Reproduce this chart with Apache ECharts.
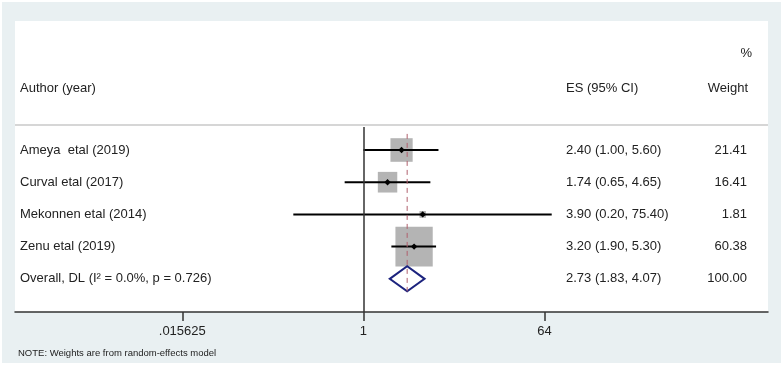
<!DOCTYPE html>
<html>
<head>
<meta charset="utf-8">
<script src="https://cdn.jsdelivr.net/npm/echarts@6/dist/echarts.min.js"></script>
<style>html,body{margin:0;padding:0;background:#fff;}#chart{width:783px;height:366px;}</style>
</head>
<body>
<div id="chart"></div>
<script>
// ---- data ----
const categories = ['Ameya  etal (2019)', 'Curval etal (2017)', 'Mekonnen etal (2014)', 'Zenu etal (2019)'];
const esValues = [2.40, 1.74, 3.90, 3.20];
const ciLower = [1.00, 0.65, 0.20, 1.90];
const ciUpper = [5.60, 4.65, 75.40, 5.30];
const weights = [21.41, 16.41, 1.81, 60.38];
const overallLabel = 'Overall, DL (I\u00B2 = 0.0%, p = 0.726)';
const overallES = [2.73];
const overallLower = [1.83];
const overallUpper = [4.07];
const overallWeight = [100.00];
const refValue = 1;
const tickValues = [0.015625, 1, 64];
const tickLabels = ['.015625', '1', '64'];
const headerCols = ['Author (year)', 'ES (95% CI)', 'Weight', '%'];
const noteText = 'NOTE: Weights are from random-effects model';

// ---- layout ----
const FONT = 'Liberation Sans, Arial, sans-serif';
const FS = 13;
const TXT = '#222';
const L2 = Math.log2;

const rows = [];
for (let i = 0; i < categories.length; i++) {
  rows.push([i, L2(esValues[i]), L2(ciLower[i]), L2(ciUpper[i]), weights[i]]);
}
rows.push([categories.length, L2(overallES[0]), L2(overallLower[0]), L2(overallUpper[0]), overallWeight[0]]);
const nRows = rows.length;
const diamondHalf = 0.39; // in row units

function fmt(v) { return v.toFixed(2); }

function renderItem(params, api) {
  const i = params.dataIndex;
  const isOverall = i === categories.length;
  const yv = api.value(0);
  const pE = api.coord([api.value(1), yv]);
  const pL = api.coord([api.value(2), yv]);
  const pH = api.coord([api.value(3), yv]);
  const w = api.value(4);
  const rowH = api.size([0, 1])[1];
  const children = [];
  const label = isOverall ? overallLabel : categories[i];
  const es = isOverall ? overallES[0] : esValues[i];
  const lo = isOverall ? overallLower[0] : ciLower[i];
  const hi = isOverall ? overallUpper[0] : ciUpper[i];
  if (isOverall) {
    const dh = rowH * diamondHalf;
    children.push({
      type: 'polygon',
      shape: { points: [[pL[0], pE[1]], [pE[0], pE[1] - dh], [pH[0], pE[1]], [pE[0], pE[1] + dh]] },
      style: { fill: 'none', stroke: '#1c237e', lineWidth: 2 }
    });
  } else {
    const s = Math.sqrt(w);
    const bw = 4.8 * s, bh = 5.1 * s;
    children.push({
      type: 'rect',
      shape: { x: pE[0] - bw / 2, y: pE[1] - bh / 2, width: bw, height: bh },
      style: { fill: '#b4b4b4' }
    });
    children.push({
      type: 'line',
      shape: { x1: pL[0], y1: pL[1], x2: pH[0], y2: pH[1] },
      style: { stroke: '#000', lineWidth: 2 }
    });
    const m = 3.2;
    children.push({
      type: 'polygon',
      shape: { points: [[pE[0] - m, pE[1]], [pE[0], pE[1] - m], [pE[0] + m, pE[1]], [pE[0], pE[1] + m]] },
      style: { fill: '#000' }
    });
  }
  children.push({
    type: 'text',
    style: { text: label, x: 20, y: pE[1], textAlign: 'left', textVerticalAlign: 'middle', font: FS + 'px ' + FONT, fill: TXT }
  });
  children.push({
    type: 'text',
    style: { text: fmt(es) + ' (' + fmt(lo) + ', ' + fmt(hi) + ')', x: 566, y: pE[1], textAlign: 'left', textVerticalAlign: 'middle', font: FS + 'px ' + FONT, fill: TXT }
  });
  children.push({
    type: 'text',
    style: { text: fmt(w), x: 747, y: pE[1], textAlign: 'right', textVerticalAlign: 'middle', font: FS + 'px ' + FONT, fill: TXT }
  });
  return { type: 'group', children: children };
}

const chart = echarts.init(document.getElementById('chart'), null, { renderer: 'canvas' });
const option = {
  backgroundColor: '#ffffff',
  animation: false,
  grid: { left: 15, right: 15, top: 127, bottom: 54, containLabel: false },
  xAxis: {
    type: 'value',
    min: -11.54,
    max: 13.40,
    position: 'bottom',
    axisLine: { show: true, onZero: false, lineStyle: { color: '#333', width: 1.5 } },
    axisTick: { show: true, customValues: tickValues.map(L2), length: 9, lineStyle: { color: '#333', width: 1.5 } },
    axisLabel: {
      show: true,
      customValues: tickValues.map(L2),
      margin: 13,
      fontSize: FS,
      fontFamily: FONT,
      color: TXT,
      formatter: function (v) {
        for (let j = 0; j < tickValues.length; j++) {
          if (Math.abs(L2(tickValues[j]) - v) < 1e-6) return tickLabels[j];
        }
        return '';
      }
    },
    splitLine: { show: false }
  },
  yAxis: {
    type: 'value',
    inverse: true,
    min: -0.714,
    max: 5.03,
    show: false
  },
  graphic: [
    { type: 'rect', z: -10, shape: { x: 2, y: 2, width: 779, height: 361 }, style: { fill: '#e9f0f2' } },
    { type: 'rect', z: -9, shape: { x: 15, y: 21, width: 753, height: 291 }, style: { fill: '#ffffff' } },
    { type: 'line', z: -8, shape: { x1: 15, y1: 125, x2: 768, y2: 125 }, style: { stroke: '#d6d6d6', lineWidth: 2 } },
    { type: 'text', style: { text: headerCols[3], x: 752, y: 53, textAlign: 'right', textVerticalAlign: 'middle', font: FS + 'px ' + FONT, fill: TXT } },
    { type: 'text', style: { text: headerCols[0], x: 20, y: 88, textAlign: 'left', textVerticalAlign: 'middle', font: FS + 'px ' + FONT, fill: TXT } },
    { type: 'text', style: { text: headerCols[1], x: 566, y: 88, textAlign: 'left', textVerticalAlign: 'middle', font: FS + 'px ' + FONT, fill: TXT } },
    { type: 'text', style: { text: headerCols[2], x: 748, y: 88, textAlign: 'right', textVerticalAlign: 'middle', font: FS + 'px ' + FONT, fill: TXT } },
    { type: 'text', style: { text: noteText, x: 18, y: 353, textAlign: 'left', textVerticalAlign: 'middle', font: '9.5px ' + FONT, fill: TXT } }
  ],
  series: [
    {
      type: 'custom',
      renderItem: renderItem,
      data: rows,
      encode: { x: [1, 2, 3], y: 0 },
      clip: false,
      z: 3,
      markLine: {
        silent: true,
        symbol: 'none',
        label: { show: false },
        lineStyle: { color: '#333', width: 1.5, type: 'solid' },
        data: [{ xAxis: L2(refValue) }]
      }
    },
    {
      type: 'line',
      data: [[L2(overallES[0]), -0.5], [L2(overallES[0]), nRows - 1 + diamondHalf]],
      symbol: 'none',
      z: 4,
      lineStyle: { color: '#b0606e', width: 1, type: [5, 4] }
    }
  ]
};
chart.setOption(option);
</script>
</body>
</html>
